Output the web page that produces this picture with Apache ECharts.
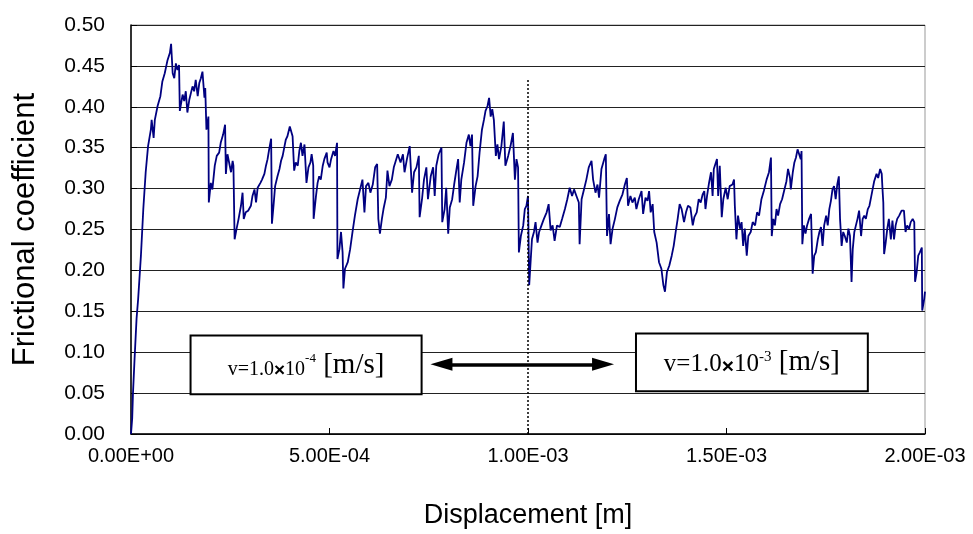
<!DOCTYPE html>
<html>
<head>
<meta charset="utf-8">
<script src="https://cdn.jsdelivr.net/npm/echarts@6/dist/echarts.min.js"></script>
<style>
  html, body { margin: 0; padding: 0; background: #fff; }
  #chart { width: 973px; height: 534px; }
</style>
</head>
<body>
<div id="chart"></div>
<script>
// displacement in micrometres, converted to metres below
var dispUm = [
  0, 3, 5, 9, 14, 18, 25, 31, 37, 43, 50, 52, 57, 60, 67, 74, 79, 85, 92, 98,
  101, 105, 109, 113, 117, 121, 123, 130, 134, 138, 142, 147, 151, 155, 159, 163, 168, 172, 176, 180,
  185, 187, 190, 195, 196, 201, 205, 211, 216, 222, 226, 232, 237, 239, 243, 248, 252, 256, 258, 261,
  266, 271, 277, 281, 284, 289, 295, 302, 306, 311, 315, 319, 326, 330, 336, 340, 344, 348, 353, 355,
  359, 363, 369, 374, 378, 382, 386, 390, 394, 400, 403, 407, 411, 415, 420, 424, 428, 432, 437, 442,
  447, 452, 455, 459, 460, 466, 470, 474, 478, 483, 487, 493, 495, 500, 504, 510, 514, 519, 520, 525,
  529, 533, 535, 539, 546, 552, 558, 564, 571, 577, 583, 588, 592, 598, 603, 609, 615, 620, 623, 627,
  632, 636, 642, 646, 651, 657, 662, 667, 672, 679, 685, 689, 695, 702, 708, 713, 719, 725, 727, 733,
  738, 744, 748, 755, 761, 765, 769, 775, 782, 784, 790, 794, 799, 803, 809, 814, 820, 824, 828, 832,
  839, 845, 851, 855, 859, 862, 868, 873, 878, 884, 889, 893, 898, 902, 906, 910, 914, 919, 923, 927,
  933, 939, 943, 950, 956, 962, 967, 971, 975, 977, 982, 988, 992, 996, 1000, 1003, 1007, 1010, 1015, 1019,
  1024, 1028, 1034, 1040, 1047, 1052, 1057, 1062, 1067, 1073, 1080, 1086, 1093, 1099, 1105, 1111, 1116, 1122, 1128, 1130,
  1135, 1141, 1147, 1153, 1160, 1164, 1170, 1175, 1179, 1185, 1192, 1196, 1199, 1204, 1208, 1213, 1219, 1225, 1231, 1238,
  1244, 1249, 1252, 1258, 1263, 1269, 1273, 1279, 1286, 1290, 1296, 1301, 1305, 1309, 1314, 1318, 1324, 1330, 1336, 1341,
  1345, 1350, 1356, 1362, 1367, 1372, 1377, 1382, 1387, 1393, 1398, 1403, 1409, 1415, 1419, 1425, 1430, 1435, 1440, 1444,
  1447, 1451, 1456, 1461, 1465, 1468, 1472, 1476, 1479, 1483, 1488, 1492, 1498, 1503, 1508, 1515, 1519, 1521, 1525, 1529,
  1534, 1538, 1542, 1546, 1551, 1555, 1561, 1566, 1572, 1577, 1582, 1588, 1594, 1601, 1607, 1612, 1614, 1618, 1622, 1626,
  1630, 1635, 1640, 1645, 1651, 1655, 1660, 1662, 1667, 1671, 1675, 1679, 1683, 1687, 1689, 1691, 1695, 1699, 1703, 1708,
  1713, 1717, 1721, 1725, 1730, 1734, 1738, 1742, 1746, 1751, 1755, 1759, 1763, 1767, 1771, 1775, 1779, 1783, 1786, 1790,
  1794, 1798, 1803, 1807, 1811, 1815, 1818, 1822, 1826, 1830, 1834, 1839, 1843, 1847, 1851, 1856, 1860, 1864, 1868, 1872,
  1878, 1882, 1887, 1891, 1893, 1895, 1897, 1901, 1905, 1909, 1914, 1918, 1922, 1926, 1930, 1935, 1941, 1947, 1951, 1955,
  1960, 1964, 1969, 1973, 1975, 1979, 1983, 1987, 1992, 1993, 1998, 2000
];

var fric = [
  0, 0.019, 0.050, 0.092, 0.141, 0.165, 0.218, 0.275, 0.320, 0.352, 0.372, 0.384, 0.362, 0.384, 0.401, 0.413, 0.431, 0.441, 0.457, 0.466,
  0.477, 0.441, 0.435, 0.453, 0.445, 0.451, 0.395, 0.415, 0.407, 0.419, 0.393, 0.409, 0.417, 0.425, 0.419, 0.433, 0.413, 0.429, 0.435, 0.443,
  0.411, 0.423, 0.372, 0.388, 0.283, 0.307, 0.299, 0.328, 0.340, 0.344, 0.356, 0.366, 0.378, 0.318, 0.342, 0.340, 0.320, 0.334, 0.328, 0.238,
  0.251, 0.263, 0.279, 0.295, 0.263, 0.271, 0.273, 0.279, 0.291, 0.299, 0.283, 0.301, 0.307, 0.311, 0.318, 0.328, 0.336, 0.348, 0.361, 0.257,
  0.279, 0.303, 0.315, 0.324, 0.334, 0.340, 0.350, 0.360, 0.364, 0.376, 0.378, 0.364, 0.322, 0.332, 0.328, 0.346, 0.356, 0.340, 0.354, 0.307,
  0.326, 0.332, 0.342, 0.328, 0.263, 0.291, 0.307, 0.315, 0.311, 0.328, 0.336, 0.344, 0.332, 0.326, 0.336, 0.346, 0.340, 0.356, 0.214, 0.226,
  0.247, 0.222, 0.178, 0.202, 0.210, 0.226, 0.247, 0.267, 0.287, 0.299, 0.311, 0.271, 0.303, 0.307, 0.295, 0.305, 0.326, 0.330, 0.263, 0.245,
  0.263, 0.275, 0.289, 0.322, 0.303, 0.311, 0.326, 0.334, 0.342, 0.332, 0.342, 0.320, 0.336, 0.352, 0.295, 0.320, 0.326, 0.340, 0.265, 0.287,
  0.311, 0.326, 0.287, 0.315, 0.326, 0.291, 0.328, 0.342, 0.350, 0.259, 0.275, 0.301, 0.245, 0.277, 0.287, 0.305, 0.324, 0.336, 0.283, 0.311,
  0.332, 0.356, 0.366, 0.352, 0.366, 0.279, 0.303, 0.315, 0.344, 0.372, 0.384, 0.395, 0.401, 0.411, 0.388, 0.397, 0.384, 0.340, 0.354, 0.336,
  0.352, 0.382, 0.328, 0.340, 0.352, 0.368, 0.311, 0.336, 0.326, 0.222, 0.242, 0.255, 0.275, 0.279, 0.291, 0.182, 0.214, 0.238, 0.247, 0.259,
  0.234, 0.247, 0.255, 0.263, 0.271, 0.281, 0.249, 0.255, 0.236, 0.255, 0.253, 0.263, 0.275, 0.287, 0.301, 0.291, 0.299, 0.291, 0.283, 0.232,
  0.287, 0.299, 0.311, 0.326, 0.334, 0.311, 0.295, 0.305, 0.289, 0.324, 0.336, 0.342, 0.242, 0.269, 0.232, 0.251, 0.263, 0.277, 0.285, 0.293,
  0.305, 0.313, 0.279, 0.291, 0.283, 0.289, 0.275, 0.287, 0.297, 0.269, 0.289, 0.285, 0.297, 0.271, 0.281, 0.247, 0.234, 0.210, 0.202, 0.182,
  0.174, 0.198, 0.206, 0.218, 0.230, 0.247, 0.263, 0.281, 0.275, 0.259, 0.271, 0.279, 0.277, 0.255, 0.265, 0.271, 0.287, 0.283, 0.293, 0.297,
  0.275, 0.291, 0.307, 0.320, 0.291, 0.324, 0.330, 0.336, 0.291, 0.328, 0.265, 0.287, 0.301, 0.287, 0.303, 0.305, 0.311, 0.279, 0.238, 0.267,
  0.251, 0.259, 0.230, 0.251, 0.218, 0.242, 0.247, 0.259, 0.255, 0.271, 0.267, 0.287, 0.297, 0.311, 0.320, 0.338, 0.242, 0.263, 0.255, 0.275,
  0.267, 0.281, 0.287, 0.297, 0.309, 0.324, 0.313, 0.299, 0.320, 0.332, 0.338, 0.348, 0.350, 0.336, 0.346, 0.232, 0.255, 0.245, 0.255, 0.263,
  0.269, 0.196, 0.218, 0.222, 0.238, 0.247, 0.253, 0.230, 0.255, 0.267, 0.255, 0.275, 0.285, 0.299, 0.303, 0.287, 0.305, 0.315, 0.263, 0.230,
  0.247, 0.242, 0.234, 0.251, 0.242, 0.186, 0.226, 0.247, 0.255, 0.263, 0.273, 0.242, 0.263, 0.267, 0.263, 0.275, 0.279, 0.289, 0.299, 0.309,
  0.318, 0.313, 0.324, 0.318, 0.299, 0.283, 0.220, 0.234, 0.251, 0.263, 0.238, 0.261, 0.238, 0.255, 0.263, 0.267, 0.273, 0.273, 0.247, 0.255,
  0.251, 0.259, 0.263, 0.259, 0.186, 0.198, 0.218, 0.222, 0.228, 0.151, 0.165, 0.174
];

// annotation boxes and arrow, in data units [displacement m, coefficient]
var slowBox = [[0.000150, 0.1205], [0.000732, 0.0487]];
var fastBox = [[0.001272, 0.1228], [0.001856, 0.0523]];
var arrowEnds = [[0.000782, 0.0852], [0.001189, 0.0852]];
var switchAt = 0.001;

var chart = echarts.init(document.getElementById('chart'));

var data = [];
for (var i = 0; i < dispUm.length; i++) {
  data.push([dispUm[i] * 1e-6, fric[i]]);
}

function sci(v) {
  var s = v.toExponential(2).toUpperCase();
  return s.replace(/E([+-])(\d)$/, 'E$10$2');
}

var sansFont = '"Liberation Sans", Arial, sans-serif';
var serifFont = '"Liberation Serif", "Times New Roman", serif';

function boxRich(small) {
  return {
    a: { fontFamily: serifFont, fontSize: small ? 20 : 25, color: '#000', verticalAlign: 'bottom', lineHeight: 30 },
    x: { fontFamily: sansFont, fontSize: small ? 19 : 21, fontWeight: 'bold', color: '#000', verticalAlign: 'bottom', lineHeight: 30 },
    s: { fontFamily: serifFont, fontSize: small ? 13 : 15, color: '#000', verticalAlign: 'top', lineHeight: 30, padding: [2, 0, 0, 0] },
    b: { fontFamily: serifFont, fontSize: 29, color: '#000', verticalAlign: 'bottom', lineHeight: 30 }
  };
}

var option = {
  animation: false,
  backgroundColor: '#fff',
  grid: {
    left: 131, right: 48, top: 25, bottom: 98,
    show: true, borderColor: '#999', borderWidth: 1
  },
  xAxis: {
    type: 'value',
    min: 0, max: 0.002, interval: 0.0005,
    name: 'Displacement [m]',
    nameLocation: 'middle',
    nameGap: 68,
    nameTextStyle: { fontFamily: sansFont, fontSize: 27, color: '#000' },
    axisLine: { lineStyle: { color: '#000', width: 1.5 } },
    axisTick: { inside: true, length: 6, lineStyle: { color: '#000' } },
    axisLabel: { fontFamily: sansFont, fontSize: 20, color: '#000', margin: 12, formatter: sci },
    splitLine: { show: false }
  },
  yAxis: {
    type: 'value',
    min: 0, max: 0.5, interval: 0.05,
    name: 'Frictional coefficient',
    nameLocation: 'middle',
    nameGap: 90,
    nameTextStyle: { fontFamily: sansFont, fontSize: 31, color: '#000' },
    axisLine: { show: true, lineStyle: { color: '#000', width: 1.5 } },
    axisTick: { show: true, inside: true, length: 6, lineStyle: { color: '#000' } },
    axisLabel: { fontFamily: sansFont, fontSize: 21, color: '#000', margin: 26, formatter: function (v) { return v.toFixed(2); } },
    splitLine: { show: true, lineStyle: { color: '#222', width: 1 } }
  },
  series: [{
    type: 'line',
    data: data,
    symbol: 'none',
    lineStyle: { color: '#000080', width: 1.8 },
    z: 3,
    markLine: {
      silent: true,
      animation: false,
      data: [
        [
          { coord: [switchAt, 0], symbol: 'none', lineStyle: { color: '#000', type: [2, 2], width: 1.5 } },
          { coord: [switchAt, 0.433], symbol: 'none' }
        ],
        [
          { coord: arrowEnds[0], symbol: 'triangle', symbolSize: [13, 22], lineStyle: { color: '#000', type: 'solid', width: 3.5 } },
          { coord: arrowEnds[1], symbol: 'triangle', symbolSize: [13, 22] }
        ]
      ],
      label: { show: false },
      itemStyle: { color: '#000' }
    },
    markArea: {
      silent: true,
      animation: false,
      itemStyle: { color: '#fff', borderColor: '#000', borderWidth: 2, opacity: 1 },
      data: [
        [
          { coord: slowBox[0], label: { show: true, position: 'inside', formatter: '{a|v=1.0}{x|×}{a|10}{s|-4}{b| [m/s]}', rich: boxRich(true) } },
          { coord: slowBox[1] }
        ],
        [
          { coord: fastBox[0], label: { show: true, position: 'inside', formatter: '{a|v=1.0}{x|×}{a|10}{s|-3}{b| [m/s]}', rich: boxRich(false) } },
          { coord: fastBox[1] }
        ]
      ]
    }
  }]
};

chart.setOption(option);
</script>
</body>
</html>
